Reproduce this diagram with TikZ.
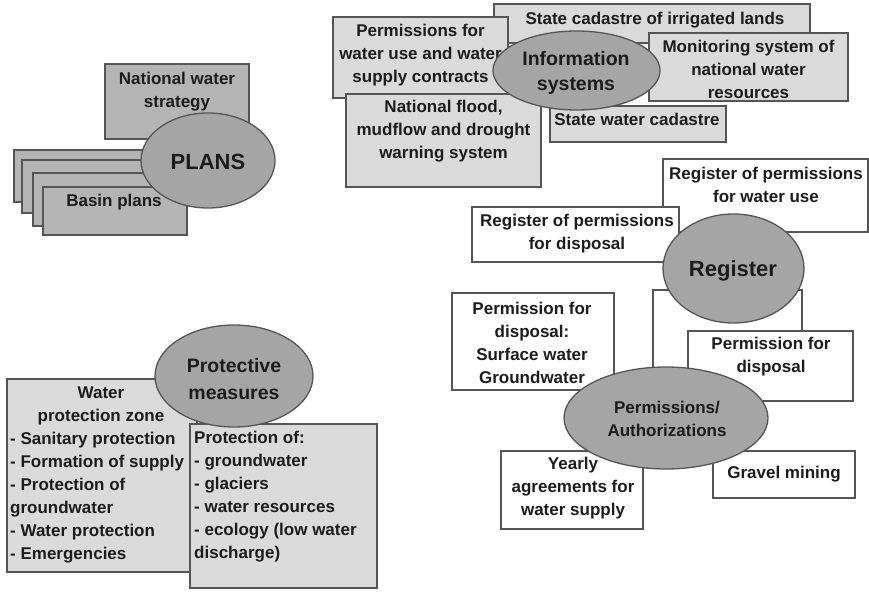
\documentclass[tikz,border=0pt]{standalone}
\usepackage{fontspec}
\setmainfont{Liberation Sans}
\usetikzlibrary{shapes.geometric}

\definecolor{edge}{HTML}{555555}
\definecolor{darkfill}{HTML}{B4B4B4}
\definecolor{lightfill}{HTML}{DADADA}
\definecolor{ovalfill}{HTML}{A5A5A5}
\definecolor{ink}{HTML}{1C1C1C}

\tikzset{
  box/.style={rectangle, draw=edge, line width=1.3pt, inner sep=0pt},
  darkbox/.style={box, fill=darkfill},
  lightbox/.style={box, fill=lightfill},
  whitebox/.style={box, fill=white},
  oval/.style={ellipse, draw=edge, line width=1.3pt, fill=ovalfill, inner sep=0pt},
  txt/.style={inner sep=0pt, align=center, text=ink,
    font=\fontsize{17}{23}\selectfont\bfseries},
  ltxt/.style={txt, align=left, anchor=west},
}

\begin{document}
\begin{tikzpicture}[x=1pt, y=-1pt]
\useasboundingbox (0,0) rectangle (869,599);

% ---------- Plans ----------
\node[darkbox, minimum width=144pt, minimum height=52pt] (bp1) at (86,176) {};
\node[darkbox, minimum width=144pt, minimum height=53pt] (bp2) at (94,186.5) {};
\node[darkbox, minimum width=144pt, minimum height=53pt] (bp3) at (105,199.5) {};
\node[darkbox, minimum width=144pt, minimum height=48pt] (bp4) at (115,211) {};
\node[txt] (bp4-t) at (114,202) {Basin plans};
\node[darkbox, minimum width=144pt, minimum height=75pt] (nws) at (177,101.5) {};
\node[txt] (nws-t) at (177,91.5) {National water\\strategy};
\node[oval, minimum width=134pt, minimum height=95pt] (plans) at (208,160.5) {};
\node[txt, font=\fontsize{22}{26}\selectfont\bfseries] (plans-t) at (208,162) {PLANS};

% ---------- Information systems ----------
\node[lightbox, minimum width=316pt, minimum height=39pt] (irr) at (652,23.5) {};
\node[txt] (irr-t) at (655,20) {State cadastre of irrigated lands};
\node[lightbox, minimum width=175pt, minimum height=81pt] (pwu) at (420.5,57.5) {};
\node[txt] (pwu-t) at (420.5,55) {Permissions for\\water use and water\\supply contracts};
\node[lightbox, minimum width=199pt, minimum height=68pt] (mon) at (748.5,67) {};
\node[txt] (mon-t) at (748.5,69) {Monitoring system of\\national water\\resources};
\node[lightbox, minimum width=195pt, minimum height=93pt] (flood) at (443.5,140.5) {};
\node[txt] (flood-t) at (443.5,131.5) {National flood,\\mudflow and drought\\warning system};
\node[lightbox, minimum width=176pt, minimum height=36pt] (swc) at (638,124) {};
\node[txt] (swc-t) at (637,119) {State water cadastre};
\node[oval, minimum width=167pt, minimum height=79pt] (info) at (576.5,70.5) {};
\node[txt, font=\fontsize{19.5}{25}\selectfont\bfseries] (info-t) at (576,72.5) {Information\\systems};

% ---------- Register ----------
\node[whitebox, minimum width=205pt, minimum height=73pt] (rwu) at (765.5,195.5) {};
\node[txt] (rwu-t) at (766,185) {Register of permissions\\for water use};
\node[whitebox, minimum width=207pt, minimum height=55pt] (rdis) at (575.5,234.5) {};
\node[txt] (rdis-t) at (577,233.5) {Register of permissions\\for disposal};
\node[whitebox, minimum width=149pt, minimum height=90pt] (blank) at (727.5,335) {};
\node[oval, minimum width=141pt, minimum height=109pt] (reg) at (733.5,268.5) {};
\node[txt, font=\fontsize{22}{26}\selectfont\bfseries] (reg-t) at (733,271) {Register};

% ---------- Permissions / Authorizations ----------
\node[whitebox, minimum width=162pt, minimum height=97pt] (pds) at (533,341.5) {};
\node[txt] (pds-t) at (532,342.5) {Permission for\\disposal:\\Surface water\\Groundwater};
\node[whitebox, minimum width=165pt, minimum height=70pt] (pfd) at (770.5,366) {};
\node[txt] (pfd-t) at (771,356.5) {Permission for\\disposal};
\node[whitebox, minimum width=142pt, minimum height=78pt] (yas) at (572,490) {};
\node[txt] (yas-t) at (573,488.5) {Yearly\\agreements for\\water supply};
\node[whitebox, minimum width=142pt, minimum height=47pt] (gm) at (784,474.5) {};
\node[txt] (gm-t) at (784,474) {Gravel mining};
\node[oval, minimum width=204pt, minimum height=102pt] (perm) at (666,418) {};
\node[txt] (perm-t) at (667,419) {Permissions/\\Authorizations};

% ---------- Protective measures ----------
\node[lightbox, minimum width=190pt, minimum height=193pt] (wpz) at (102,475.5) {};
\node[txt] (wpz-h) at (101,406) {Water\\protection zone};
\node[ltxt] (wpz-l) at (10,498) {- Sanitary protection\\- Formation of supply\\- Protection of\\groundwater\\- Water protection\\- Emergencies};
\node[lightbox, minimum width=187pt, minimum height=164pt] (pof) at (283.5,506) {};
\node[ltxt] (pof-l) at (194,497) {Protection of:\\- groundwater\\- glaciers\\- water resources\\- ecology (low water\\discharge)};
\node[oval, minimum width=158pt, minimum height=102pt] (prot) at (234,376) {};
\node[txt, font=\fontsize{19.5}{27}\selectfont\bfseries] (prot-t) at (234,379) {Protective\\measures};

\end{tikzpicture}
\end{document}
